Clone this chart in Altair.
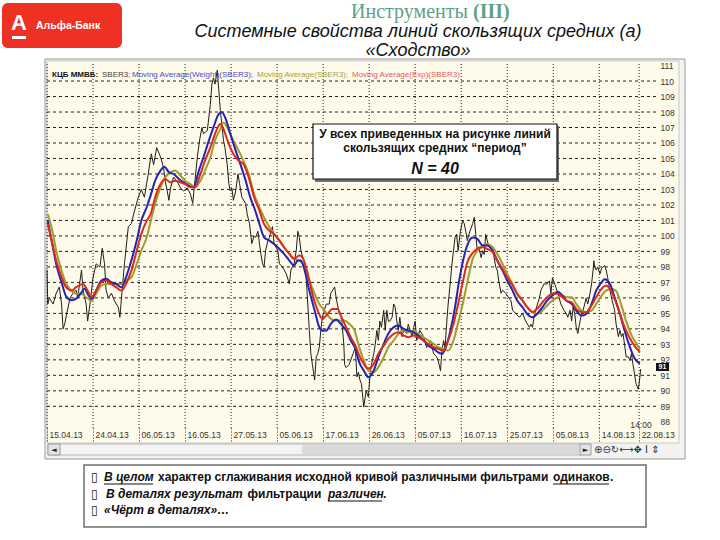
import altair as alt
import pandas as pd

# ---------------- data ----------------
DATE_LABELS = ["15.04.13", "24.04.13", "06.05.13", "16.05.13", "27.05.13", "05.06.13", "17.06.13",
               "26.06.13", "05.07.13", "16.07.13", "25.07.13", "05.08.13", "14.08.13", "22.08.13"]
DATE_TICKS = [0, 60, 120, 180, 240, 300, 360, 420, 480, 540, 600, 660, 720, 772]
PRICE_TICKS = list(range(88, 112))
GRID_PRICES = list(range(89, 111))

sber_bar = [0, 1, 3, 8, 12, 16, 19, 21, 23, 25, 30, 34, 38, 40, 45, 47, 51, 53, 56, 60, 64, 69, 72, 75, 77, 80,
            84, 88, 93, 95, 98, 101, 106, 110, 114, 119, 123, 127, 132, 136, 139, 143, 148, 152, 154, 159, 161,
            165, 170, 174, 178, 183, 187, 190, 193, 196, 199, 202, 204, 209, 213, 215, 217, 219, 222, 224, 226,
            228, 230, 232, 235, 237, 239, 241, 243, 246, 249, 251, 254, 259, 261, 264, 267, 270, 272, 275, 277,
            279, 281, 283, 285, 288, 290, 292, 294, 296, 301, 303, 307, 312, 316, 318, 322, 325, 327, 329, 331,
            336, 338, 340, 342, 344, 346, 349, 351, 353, 355, 357, 359, 364, 368, 370, 375, 377, 381, 384, 387,
            388, 390, 394, 399, 402, 404, 406, 408, 410, 413, 416, 419, 421, 423, 426, 428, 430, 432, 434, 436,
            439, 441, 443, 445, 447, 450, 452, 454, 456, 458, 460, 463, 465, 469, 471, 476, 478, 480, 482, 486,
            491, 495, 500, 504, 508, 510, 513, 515, 517, 519, 521, 523, 526, 528, 530, 532, 534, 536, 539, 542,
            544, 546, 548, 550, 555, 557, 559, 561, 563, 566, 568, 570, 572, 574, 576, 581, 583, 585, 587, 589,
            592, 594, 598, 602, 605, 607, 611, 616, 620, 624, 629, 631, 633, 635, 637, 642, 644, 648, 652, 655,
            657, 659, 662, 666, 670, 674, 677, 679, 682, 684, 686, 688, 690, 692, 695, 697, 699, 701, 703, 705,
            708, 710, 712, 713, 714, 716, 718, 721, 723, 725, 727, 729, 731, 734, 736, 738, 740, 742, 745, 747,
            749, 751, 753, 755, 758, 760, 762, 764, 766, 768, 771, 773, 774]
sber_val = [97.8, 95.6, 96.0, 95.6, 96.3, 96.7, 95.6, 94.0, 94.3, 94.8, 96.0, 96.3, 96.5, 96.0, 97.8, 96.5, 95.6,
            94.5, 95.6, 97.3, 98.2, 98.0, 99.2, 98.2, 96.5, 96.0, 96.3, 95.8, 95.4, 94.75, 96.5, 98.2, 100.6,
            100.8, 101.6, 102.5, 103.0, 102.5, 104.0, 105.3, 104.6, 105.7, 105.1, 104.4, 103.6, 102.3, 103.1,
            103.8, 103.5, 103.1, 102.9, 103.1, 102.7, 102.1, 103.6, 105.1, 106.2, 107.0, 106.6, 106.8, 108.5,
            109.8, 110.2, 109.8, 110.7, 109.4, 108.1, 107.2, 106.2, 105.7, 104.6, 103.4, 102.9, 103.1, 102.3,
            102.9, 104.0, 103.4, 102.5, 102.1, 101.4, 100.8, 99.5, 100.0, 99.9, 100.3, 99.5, 98.8, 98.2, 98.0,
            99.05, 99.7, 99.9, 100.3, 100.6, 99.5, 99.05, 98.2, 98.0, 97.55, 96.9, 97.8, 98.2, 99.05, 100.3,
            99.9, 99.05, 98.2, 97.3, 95.6, 93.9, 92.4, 91.7, 90.7, 92.2, 92.4, 92.8, 93.9, 94.75, 95.6, 95.6,
            96.3, 96.7, 96.0, 95.0, 94.75, 93.0, 91.7, 91.5, 91.7, 92.4, 92.8, 90.9, 91.2, 90.7, 90.45, 88.95,
            90.0, 89.6, 90.9, 91.7, 92.4, 93.0, 93.9, 93.25, 94.5, 94.1, 95.2, 93.9, 95.2, 94.5, 94.5, 94.75,
            95.6, 95.4, 94.5, 93.9, 94.75, 93.5, 93.9, 93.7, 94.3, 93.5, 94.1, 94.5, 93.25, 93.9, 93.5, 92.8,
            93.25, 92.4, 92.2, 91.96, 91.3, 92.6, 93.25, 92.8, 94.3, 95.6, 97.1, 98.2, 99.05, 99.9, 100.1, 99.05,
            100.3, 101.0, 100.8, 100.3, 99.7, 100.1, 100.8, 101.2, 100.1, 99.05, 99.3, 98.6, 99.05, 98.8, 100.1,
            99.7, 99.3, 99.05, 98.6, 98.0, 97.8, 97.1, 96.3, 96.5, 96.3, 96.0, 95.8, 95.2, 95.0, 94.75, 95.0,
            94.5, 94.1, 94.3, 94.1, 94.75, 95.2, 96.0, 96.5, 96.9, 96.9, 97.1, 96.3, 97.3, 96.9, 96.3, 95.6,
            95.2, 95.0, 94.75, 95.2, 94.5, 95.4, 95.0, 94.1, 93.7, 94.5, 95.0, 95.2, 95.6, 96.0, 95.6, 96.3,
            96.9, 97.8, 98.4, 98.0, 97.8, 98.0, 97.55, 97.9, 98.0, 98.1, 97.8, 97.3, 96.5, 96.0, 95.6, 95.2,
            94.3, 93.5, 93.9, 93.5, 93.7, 93.0, 92.2, 92.2, 91.96, 92.4, 91.7, 91.1, 90.45, 90.1, 90.9, 91.4]

wma_bar = [1, 6, 12, 19, 25, 32, 38, 45, 49, 53, 58, 64, 71, 77, 84, 90, 97, 103, 110, 117, 123, 130, 135, 141,
           148, 153, 159, 165, 172, 178, 185, 191, 198, 204, 211, 217, 224, 228, 233, 239, 246, 252, 259, 265,
           270, 277, 283, 290, 296, 303, 309, 316, 322, 327, 331, 336, 342, 349, 355, 359, 364, 370, 377, 383,
           390, 396, 403, 406, 413, 419, 426, 432, 439, 445, 452, 458, 465, 471, 478, 484, 491, 497, 504, 510,
           515, 520, 526, 532, 537, 542, 548, 555, 561, 568, 574, 581, 587, 594, 600, 607, 613, 620, 626, 633,
           639, 646, 652, 659, 666, 672, 677, 684, 690, 697, 703, 710, 716, 723, 727, 734, 740, 747, 753, 760,
           766, 773]
wma_val = [100.99, 99.7, 98.19, 97.0, 96.1, 95.85, 95.95, 96.35, 96.6, 96.26, 95.94, 96.47, 97.12, 97.23, 97.01,
           96.9, 96.69, 97.33, 98.41, 99.7, 100.99, 101.85, 102.6, 103.57, 104.22, 104.47, 104.11, 104.0, 103.68,
           103.46, 103.25, 103.14, 104.22, 105.08, 106.15, 107.01, 107.87, 107.98, 107.55, 106.58, 105.51,
           104.65, 103.57, 102.49, 101.85, 100.77, 99.91, 99.7, 99.48, 99.16, 98.84, 98.41, 98.09, 98.41, 98.41,
           97.76, 96.47, 95.18, 94.11, 93.89, 93.89, 94.32, 94.6, 94.32, 93.89, 93.25, 92.6, 92.0, 91.31, 90.88,
           91.31, 92.17, 93.03, 93.68, 94.11, 94.22, 94.0, 93.89, 93.78, 93.57, 93.25, 92.92, 92.71, 92.49,
           92.39, 92.82, 93.89, 95.4, 97.0, 98.3, 99.4, 99.9, 99.81, 99.38, 99.38, 99.05, 98.41, 97.76, 97.12,
           96.47, 95.83, 95.4, 94.97, 94.75, 94.97, 95.4, 95.83, 96.15, 96.4, 96.15, 95.83, 95.61, 95.18,
           94.86, 94.97, 95.61, 96.47, 97.0, 97.2, 96.9, 96.04, 94.97, 93.89, 92.82, 92.1, 91.75]

sma_bar = [1, 6, 12, 19, 25, 32, 38, 45, 51, 58, 64, 71, 77, 84, 90, 97, 103, 110, 117, 123, 130, 135, 141, 148,
           154, 161, 167, 174, 180, 187, 193, 200, 206, 213, 219, 226, 230, 237, 243, 250, 256, 263, 270, 277,
           283, 290, 296, 303, 309, 316, 322, 329, 336, 342, 349, 355, 362, 368, 375, 381, 388, 394, 401, 406,
           413, 419, 426, 432, 439, 445, 452, 458, 465, 471, 478, 484, 491, 497, 504, 510, 517, 523, 530, 536,
           542, 548, 555, 561, 568, 574, 581, 587, 594, 600, 607, 613, 620, 626, 633, 639, 646, 652, 659, 666,
           672, 677, 684, 690, 697, 703, 710, 716, 723, 729, 736, 742, 749, 755, 762, 769, 773]
sma_val = [101.42, 100.56, 99.05, 97.76, 96.9, 96.47, 96.26, 96.26, 96.04, 95.83, 96.26, 96.8, 96.9, 96.9, 96.9,
           96.9, 97.12, 97.33, 98.19, 99.05, 99.91, 100.9, 102.06, 103.14, 103.78, 104.11, 104.22, 103.89,
           103.57, 103.35, 103.14, 103.57, 104.22, 105.08, 106.15, 106.9, 107.33, 106.8, 106.15, 105.51,
           104.86, 104.0, 102.7, 101.85, 101.2, 100.56, 100.13, 99.7, 99.27, 98.84, 98.52, 98.41, 97.98, 97.12,
           96.26, 95.61, 95.18, 94.75, 94.54, 94.54, 94.54, 94.32, 93.89, 93.0, 91.96, 91.31, 91.2, 91.53,
           92.17, 92.82, 93.25, 93.68, 93.89, 93.78, 93.89, 93.68, 93.46, 93.25, 93.03, 92.82, 92.71, 92.6,
           93.25, 94.4, 95.6, 97.0, 98.5, 99.05, 99.38, 99.48, 99.27, 98.84, 98.19, 97.55, 96.9, 96.26, 95.83,
           95.4, 95.08, 94.97, 95.18, 95.51, 95.83, 96.04, 96.15, 96.04, 96.04, 95.61, 95.18, 95.08, 95.18,
           95.61, 96.15, 96.47, 96.58, 96.45, 95.5, 94.5, 93.6, 93.0, 92.7]

ema_bar = [1, 6, 12, 19, 25, 32, 38, 47, 53, 58, 64, 71, 77, 84, 90, 97, 103, 110, 117, 123, 130, 135, 141, 148,
           154, 161, 167, 174, 180, 187, 193, 200, 206, 213, 219, 226, 230, 237, 243, 250, 256, 263, 270, 277,
           283, 290, 296, 303, 309, 316, 322, 329, 333, 340, 346, 353, 359, 366, 372, 379, 384, 390, 396, 403,
           406, 413, 419, 426, 432, 439, 445, 452, 458, 465, 471, 478, 484, 491, 497, 504, 510, 517, 523, 530,
           536, 542, 548, 555, 561, 568, 574, 581, 587, 594, 600, 607, 613, 620, 626, 633, 639, 646, 652, 659,
           666, 672, 677, 684, 690, 697, 703, 710, 716, 723, 729, 734, 740, 747, 753, 760, 766, 773]
ema_val = [100.77, 99.7, 98.41, 97.33, 96.69, 96.47, 96.69, 96.9, 96.47, 96.04, 96.47, 97.01, 97.12, 96.9, 96.69,
           96.47, 96.9, 97.76, 99.05, 100.13, 100.99, 101.4, 102.49, 103.35, 103.68, 103.46, 103.57, 103.46,
           103.35, 103.14, 103.14, 104.0, 104.86, 105.72, 106.58, 107.23, 106.9, 105.94, 105.29, 104.86,
           104.65, 103.78, 102.5, 101.63, 100.77, 100.34, 100.13, 99.7, 99.27, 98.84, 98.52, 98.73, 98.62,
           97.55, 96.26, 95.18, 94.65, 94.97, 95.29, 95.29, 94.75, 94.11, 93.46, 92.82, 92.4, 91.74, 91.42,
           91.74, 92.39, 92.92, 93.35, 93.68, 93.78, 93.57, 93.46, 93.57, 93.46, 93.25, 93.03, 92.82, 92.71,
           92.6, 93.25, 94.32, 95.61, 97.0, 98.3, 98.9, 99.16, 99.27, 99.16, 98.95, 98.41, 97.87, 97.33, 96.8,
           96.26, 95.83, 95.4, 95.08, 95.29, 95.72, 96.04, 96.26, 96.26, 96.04, 95.83, 95.72, 95.29, 95.08,
           95.08, 95.51, 96.04, 96.58, 96.8, 96.58, 95.94, 94.97, 94.11, 93.4, 92.9, 92.5]

# ---------------- layout ----------------
OX, OY = 47, 64          # plot-area origin in the page
W, H = 609, 364
xscale = alt.Scale(domain=[0, 794], nice=False, zero=False)
yscale = alt.Scale(domain=[87.6, 111.1], nice=False, zero=False)
one = pd.DataFrame({"k": [0]})
FONT = "Liberation Sans"


def rect(x1, y1, x2, y2, fill, stroke=None, sw=1, r=0):
    kw = dict(fill=fill, strokeWidth=sw, cornerRadius=r)
    if stroke:
        kw["stroke"] = stroke
    return alt.Chart(one).mark_rect(**kw).encode(
        x=alt.value(x1 - OX), x2=alt.value(x2 - OX), y=alt.value(y1 - OY), y2=alt.value(y2 - OY))


def text(x, y, s, size=10, color="black", weight="normal", style="normal", font=FONT, align="left"):
    return alt.Chart(one).mark_text(text=s, fontSize=size, color=color, fontWeight=weight, fontStyle=style,
                                    font=font, align=align, baseline="middle").encode(
        x=alt.value(x - OX), y=alt.value(y - OY))


def hline(x1, x2, y, color="black", sw=1):
    return alt.Chart(one).mark_rule(color=color, strokeWidth=sw).encode(
        x=alt.value(x1 - OX), x2=alt.value(x2 - OX), y=alt.value(y - OY))


labels_js = "[" + ",".join("'%s'" % s for s in DATE_LABELS) + "]"
ticks_js = "[" + ",".join(str(t) for t in DATE_TICKS) + "]"

x_axis = alt.Axis(values=DATE_TICKS, labelExpr=f"{labels_js}[indexof({ticks_js}, datum.value)]",
                  grid=False, domain=False, ticks=True, tickSize=13, tickDash=[1, 2], tickColor="#222",
                  labelAlign="left", labelBaseline="top", labelPadding=-11, labelOffset=2, labelFont=FONT,
                  labelFontSize=8.5, labelColor="#333", title=None, zindex=1, labelOverlap=False,
                  labelFlush=False, labelBound=False)
y_axis = alt.Axis(orient="right", values=PRICE_TICKS, format="d", grid=False, domain=False, ticks=False,
                  labelPadding=4, labelFont=FONT, labelFontSize=8.5, labelColor="#333", title=None, zindex=1,
                  labelOverlap=False, labelFlush=False, labelBound=False)

X = lambda f: alt.X(f, scale=xscale, axis=x_axis)
Y = lambda f: alt.Y(f, scale=yscale, axis=y_axis)

layers = []
# chart window
layers.append(rect(45, 59, 685, 459, "#f2f2f2", "#9a9a9a", 1))
layers.append(rect(47, 61, 679, 443, "#fffbea", "#c8c8c8", 1))
# scroll bar + toolbar
layers.append(rect(48, 444, 581, 455, "#f3f3f3", "#b5b5b5", 1))
layers.append(rect(302, 445, 579, 454, "#dadada"))
layers.append(rect(48, 444, 60, 455, "#e4e4e4", "#999999", 1))
layers.append(text(54, 449.5, "◄", 7, "#222", align="center", font="DejaVu Sans"))
layers.append(rect(580, 444, 591, 455, "#e4e4e4", "#999999", 1))
layers.append(text(585.5, 449.5, "►", 7, "#222", align="center", font="DejaVu Sans"))
layers.append(text(594, 449.5, "⊕⊖↻⟷✥ I ⇕", 10, "#333", font="DejaVu Sans"))

# grid
hgrid = alt.Chart(pd.DataFrame({"price": GRID_PRICES})).mark_rule(
    color="#222", strokeDash=[3, 3], strokeWidth=1).encode(y=Y("price:Q"))
vgrid = alt.Chart(pd.DataFrame({"bar": DATE_TICKS})).mark_rule(
    color="#222", strokeDash=[1, 2], strokeWidth=1).encode(x=X("bar:Q"))
layers += [hgrid, vgrid]


def series(bars, vals, color, width, interp="linear"):
    df = pd.DataFrame({"bar": bars, "price": vals})
    return alt.Chart(df).mark_line(color=color, strokeWidth=width, interpolate=interp).encode(
        x=X("bar:Q"), y=Y("price:Q"))


layers.append(series(sber_bar, sber_val, "#1e1e1e", 1))
layers.append(series(sma_bar, sma_val, "#a29c2c", 2, interp="monotone"))
layers.append(series(wma_bar, wma_val, "#2323b4", 2, interp="monotone"))
layers.append(series(ema_bar, ema_val, "#dc2a1e", 2, interp="monotone"))

# in-chart legend line
layers.append(text(52, 75, "КЦБ ММВБ:", 8, "#111", weight="bold"))
layers.append(text(102, 75, "SBER3;", 8, "#444"))
layers.append(text(132, 75, "Moving Average(Weight)(SBER3);", 8, "#4a4ac8"))
layers.append(text(257, 75, "Moving Average(SBER3);", 8, "#a4a03c"))
layers.append(text(352, 75, "Moving Average(Exp)(SBER3)", 8, "#e05a5a"))

# last price marker and time stamp
layers.append(rect(656, 363, 669, 371, "#111111"))
layers.append(text(662.5, 367, "91", 7, "white", weight="bold", align="center"))
layers.append(text(641, 425, "14:00", 8.5, "#333", align="center"))

# info box
layers.append(rect(315, 126, 559, 182, "#707070"))
layers.append(rect(313, 124, 557, 179, "white", "#111111", 1.2))
layers.append(text(435, 134, "У всех приведенных на рисунке линий", 12, "#111", weight="bold", align="center"))
layers.append(text(435, 148, "скользящих средних “период”", 12, "#111", weight="bold", align="center"))
layers.append(text(435, 169, "N = 40", 16, "#111", weight="bold", style="italic", align="center"))

# logo
layers.append(rect(2, 3, 122, 48, "#ef3124", r=6))
layers.append(text(19, 23, "А", 22, "white", weight="bold", align="center"))
layers.append(rect(12, 36, 26, 39, "white"))
layers.append(text(36, 26, "Альфа-Банк", 10.5, "white", weight="bold"))

# titles
layers.append(text(468, 12, "Инструменты", 20, "#5f9f86", font="Liberation Serif", align="right"))
layers.append(text(473, 12, "(III)", 20, "#5f9f86", weight="bold", font="Liberation Serif"))
layers.append(text(418, 32, "Системные свойства линий скользящих средних (а)", 18, "#111", style="italic",
                   align="center"))
layers.append(text(418, 51, "«Сходство»", 18, "#111", style="italic", align="center"))

# bottom note box
layers.append(rect(84, 465, 646, 527, "white", "#6e6e6e", 1.5))
B = 12
layers.append(text(91, 477, "▯", B, "#111", weight="bold", font="DejaVu Sans"))
layers.append(text(104, 477, "В целом", B, "#111", weight="bold", style="italic"))
layers.append(hline(104, 153, 484, "#111", 1))
layers.append(text(158, 477, "характер сглаживания исходной кривой различными фильтрами", B, "#111",
                   weight="bold"))
layers.append(text(553, 477, "одинаков", B, "#111", weight="bold"))
layers.append(hline(553, 609, 484, "#111", 1))
layers.append(text(610, 477, ".", B, "#111", weight="bold"))
layers.append(text(91, 494, "▯", B, "#111", weight="bold", font="DejaVu Sans"))
layers.append(text(106, 494, "В деталях результат", B, "#111", weight="bold", style="italic"))
layers.append(text(247.5, 494, "фильтрации", B, "#111", weight="bold"))
layers.append(text(328, 494, "различен", B, "#111", weight="bold", style="italic"))
layers.append(hline(328, 382, 501, "#111", 1))
layers.append(text(383, 494, ".", B, "#111", weight="bold"))
layers.append(text(91, 510, "▯", B, "#111", weight="bold", font="DejaVu Sans"))
layers.append(text(104, 510, "«Чёрт в деталях»…", B, "#111", weight="bold", style="italic"))

chart = alt.layer(*layers).properties(
    width=W, height=H,
    padding={"left": OX, "top": OY, "right": 720 - OX - W, "bottom": 540 - OY - H},
    autosize=alt.AutoSizeParams(type="none"),
).configure(background="white").configure_view(stroke=None)

chart.save("out.html", embed_options={"renderer": "svg", "actions": False})
